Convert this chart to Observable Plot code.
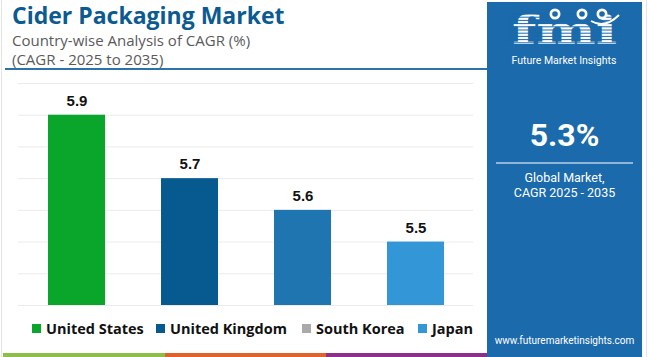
<!DOCTYPE html>
<html>
<head>
<meta charset="utf-8">
<script src="https://cdn.jsdelivr.net/npm/d3@7"></script>
<script src="https://cdn.jsdelivr.net/npm/@observablehq/plot@0.6"></script>
<style>
  html, body { margin: 0; padding: 0; background: #fff; }
  #page { position: relative; width: 650px; height: 357px; overflow: hidden; font-family: "Open Sans", sans-serif; background: #fff; }
  .abs { position: absolute; }
  #title { left: 12px; top: 1px; font-size: 23px; font-weight: 700; color: #0b5a92; line-height: 28px; white-space: nowrap; }
  .sub { left: 12px; font-size: 15px; color: #5a5a5a; line-height: 18px; white-space: nowrap; }
  #rule { left: 5px; top: 68px; width: 482px; height: 2px; background: #2f72a8; }
  #chart { left: 0px; top: 72px; }
  .item { position: absolute; top: 318px; height: 20px; display: flex; align-items: center; gap: 5px; font-size: 14.5px; font-weight: 700; color: #111; white-space: nowrap; }
  .sw { width: 9px; height: 9px; }
  #panel { left: 487px; top: 2px; width: 155px; height: 355px; background: #1b6aab; }
  .ptext { left: 487px; width: 155px; text-align: center; color: #fff; white-space: nowrap; font-family: Roboto, sans-serif; }
  #stripe { left: 3px; top: 353px; height: 4px; display: flex; }
</style>
</head>
<body>
<div id="page">
  <div class="abs" style="left:1px;top:0;width:1px;height:357px;background:#e4e4e4"></div>
  <div class="abs" style="left:646px;top:0;width:1px;height:357px;background:#e4e4e4"></div>
  <div id="title" class="abs"></div>
  <div id="sub1" class="abs sub" style="top:31px"></div>
  <div id="sub2" class="abs sub" style="top:50px"></div>
  <div id="rule" class="abs"></div>
  <div id="chart" class="abs"></div>
  <div id="legend"></div>
  <div id="panel" class="abs"></div>
  <svg class="abs" id="logo" style="left:487px;top:0px" width="155" height="70"></svg>
  <div id="big" class="ptext abs" style="top:115px;font-size:32px;font-weight:700;line-height:40px"></div>
  <div class="abs" style="left:496px;top:162px;width:137px;height:2px;background:#8fb6d8"></div>
  <div id="g1" class="ptext abs" style="top:170px;font-size:12.5px;line-height:16px"></div>
  <div id="g2" class="ptext abs" style="top:185px;font-size:12.5px;line-height:16px"></div>
  <div id="web" class="ptext abs" style="top:334px;font-size:10px;line-height:14px"></div>
  <div id="stripe" class="abs"></div>
</div>
<script>
// ---- data ----
const titleText = "Cider Packaging Market";
const subtitle1 = "Country-wise Analysis of CAGR (%)";
const subtitle2 = "(CAGR - 2025 to 2035)";
const countries = ["United States", "United Kingdom", "South Korea", "Japan"];
const cagr = [5.9, 5.7, 5.6, 5.5];
const barColors = ["#0aa62b", "#065a8f", "#1e75b0", "#3397d7"];
const legendColors = ["#0aa62b", "#065a8f", "#aaaaaa", "#3397d7"];
const legendX = [32, 156, 302, 418];
const baseline = 5.3;
const yTicks = [5.3, 5.4, 5.5, 5.6, 5.7, 5.8, 5.9, 6.0];
const globalValue = "5.3%";
const globalLabel1 = "Global Market,";
const globalLabel2 = "CAGR 2025 - 2035";
const website = "www.futuremarketinsights.com";
const brandName = "Future Market Insights";
const stripeColors = ["#8bbf4a", "#e0622c", "#8c2f8a"];
const stripeWidths = [162, 161, 161];

// ---- text ----
document.getElementById("title").textContent = titleText;
document.getElementById("sub1").textContent = subtitle1;
document.getElementById("sub2").textContent = subtitle2;
document.getElementById("big").textContent = globalValue;
document.getElementById("g1").textContent = globalLabel1;
document.getElementById("g2").textContent = globalLabel2;
document.getElementById("web").textContent = website;

// ---- chart ----
const data = countries.map((c, i) => ({country: c, value: cagr[i]}));
const chart = Plot.plot({
  width: 487,
  height: 240,
  marginLeft: 18,
  marginRight: 14,
  marginTop: 11,
  marginBottom: 7,
  style: {background: "transparent", overflow: "visible"},
  x: {domain: countries, paddingInner: 0.5, paddingOuter: 0.25, axis: null},
  y: {domain: [baseline, 6.0], axis: null},
  color: {domain: countries, range: barColors},
  marks: [
    Plot.gridY(yTicks, {stroke: "#ebebeb", strokeOpacity: 1, strokeWidth: 1}),
    Plot.barY(data, {x: "country", y1: baseline, y2: "value", fill: "country"}),
    Plot.text(data, {
      x: "country", y: "value", text: d => d.value.toFixed(1), dy: -14,
      fontSize: 15, fontWeight: 700, fill: "#111",
      fontFamily: "Liberation Sans, Arial, sans-serif"
    })
  ]
});
document.getElementById("chart").appendChild(chart);

// ---- legend ----
const legend = document.getElementById("legend");
countries.forEach((c, i) => {
  const item = document.createElement("div");
  item.className = "item";
  item.style.left = legendX[i] + "px";
  const sw = document.createElement("div");
  sw.className = "sw";
  sw.style.background = legendColors[i];
  const t = document.createElement("span");
  t.textContent = c;
  item.appendChild(sw);
  item.appendChild(t);
  legend.appendChild(item);
});

// ---- stripe ----
const stripe = document.getElementById("stripe");
stripeColors.forEach((col, i) => {
  const s = document.createElement("div");
  s.style.width = stripeWidths[i] + "px";
  s.style.height = "4px";
  s.style.background = col;
  stripe.appendChild(s);
});

// ---- logo ----
const svg = d3.select("#logo");
svg.append("text")
  .attr("x", 25).attr("y", 44)
  .attr("font-family", "DejaVu Serif, serif")
  .attr("font-weight", 700)
  .attr("font-size", 40)
  .attr("textLength", 105)
  .attr("lengthAdjust", "spacingAndGlyphs")
  .attr("fill", "#fff")
  .text("fmi");
for (let y = 14; y < 46; y += 3.2) {
  svg.append("line").attr("x1", 20).attr("x2", 135).attr("y1", y).attr("y2", y)
    .attr("stroke", "#1b6aab").attr("stroke-width", 1);
}
[[68, 14], [95, 14], [115, 14]].forEach(([cx, cy]) => {
  svg.append("circle").attr("cx", cx).attr("cy", cy).attr("r", 5.5).attr("fill", "#fff");
  svg.append("circle").attr("cx", cx).attr("cy", cy).attr("r", 2.8).attr("fill", "#1b6aab");
});
svg.append("path").attr("d", "M104 21 Q118 29 132 15").attr("fill", "none")
  .attr("stroke", "#fff").attr("stroke-width", 2);
svg.append("text")
  .attr("x", 77).attr("y", 64)
  .attr("text-anchor", "middle")
  .attr("font-family", "Roboto, sans-serif")
  .attr("font-size", 10.5)
  .attr("fill", "#fff")
  .text(brandName);
</script>
</body>
</html>
